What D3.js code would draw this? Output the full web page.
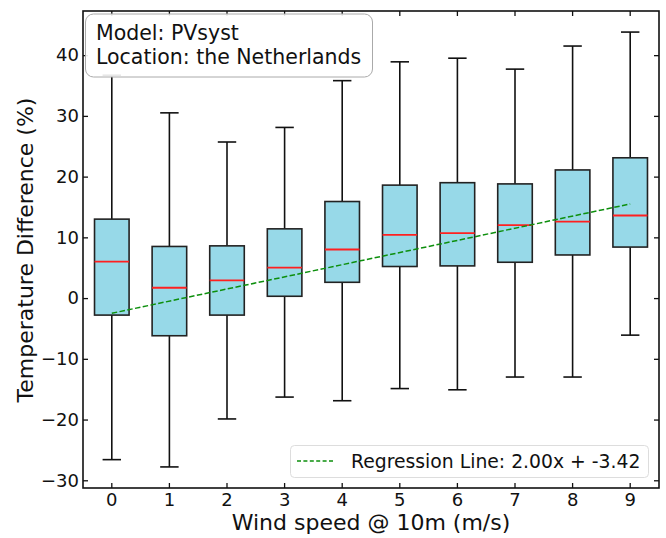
<!DOCTYPE html>
<html><head><meta charset="utf-8">
<script src="https://cdn.jsdelivr.net/npm/d3@7"></script>
<style>body{margin:0;background:#fff}svg{display:block}text{font-family:"DejaVu Sans",sans-serif}</style>
</head><body>
<svg id="c" width="666" height="538"></svg>
<script>
const categories = ["0","1","2","3","4","5","6","7","8","9"];
const whiskerLow  = [-26.6,-27.8,-19.9,-16.3,-16.9,-14.9,-15.1,-13.0,-13.0,-6.1];
const q1          = [-2.8,-6.2,-2.8,0.3,2.6,5.2,5.3,5.9,7.1,8.4];
const medians     = [6.0,1.7,2.9,5.0,8.0,10.4,10.7,12.0,12.6,13.6];
const q3          = [13.0,8.5,8.6,11.4,15.9,18.6,19.0,18.8,21.1,23.1];
const whiskerHigh = [36.7,30.5,25.7,28.1,35.8,38.9,39.5,37.7,41.5,43.8];
const regressionLine = [{x:"0", y:-2.5},{x:"9", y:15.5}];
const yTicks = [-30,-20,-10,0,10,20,30,40];
const annotationLines = ["Model: PVsyst","Location: the Netherlands"];
const legendLabel = "Regression Line: 2.00x + -3.42";

const svg = d3.select("#c");
const L=83, R=659, T=11, B=488;
const x = d3.scaleBand().domain(categories).range([L,R]).paddingInner(0).paddingOuter(0);
const y = d3.scaleLinear().domain([-31.27,47.27]).range([B,T]);
const cx = c => x(c)+x.bandwidth()/2;
const bw = x.bandwidth()*0.6, cw = x.bandwidth()*0.32;
const GREEN = "#0d8f0d";

const g = svg.append("g");
categories.forEach((c,i)=>{
  const X = cx(c);
  g.append("line").attr("x1",X).attr("x2",X).attr("y1",y(q3[i])).attr("y2",y(whiskerHigh[i])).attr("stroke","#111").attr("stroke-width",1.6);
  g.append("line").attr("x1",X).attr("x2",X).attr("y1",y(q1[i])).attr("y2",y(whiskerLow[i])).attr("stroke","#111").attr("stroke-width",1.6);
  g.append("line").attr("x1",X-cw/2).attr("x2",X+cw/2).attr("y1",y(whiskerHigh[i])).attr("y2",y(whiskerHigh[i])).attr("stroke","#111").attr("stroke-width",1.6);
  g.append("line").attr("x1",X-cw/2).attr("x2",X+cw/2).attr("y1",y(whiskerLow[i])).attr("y2",y(whiskerLow[i])).attr("stroke","#111").attr("stroke-width",1.6);
  g.append("rect").attr("x",X-bw/2).attr("width",bw).attr("y",y(q3[i])).attr("height",y(q1[i])-y(q3[i]))
    .attr("fill","#97d9e8").attr("stroke","#222").attr("stroke-width",1.6);
  g.append("line").attr("x1",X-bw/2).attr("x2",X+bw/2).attr("y1",y(medians[i])).attr("y2",y(medians[i])).attr("stroke","#ff2020").attr("stroke-width",1.8);
});

svg.append("path").datum(regressionLine)
  .attr("d", d3.line().x(d=>cx(d.x)).y(d=>y(d.y)))
  .attr("stroke",GREEN).attr("stroke-width",1.5).attr("stroke-dasharray","5.5,2.4").attr("fill","none");

// frame
svg.append("rect").attr("x",L).attr("y",T).attr("width",R-L).attr("height",B-T).attr("fill","none").attr("stroke","#111").attr("stroke-width",1.6);

// axes with inward ticks
const yAxis = d3.axisLeft(y).tickValues(yTicks).tickSize(-5).tickPadding(4).tickFormat(d=>d<0?"\u2212"+Math.abs(d):d);
const ya = svg.append("g").attr("transform",`translate(${L},0)`).call(yAxis);
const yr = svg.append("g").attr("transform",`translate(${R},0)`).call(d3.axisRight(y).tickValues(yTicks).tickSize(-5).tickFormat(""));
const xAxis = d3.axisBottom(x).tickSize(-5).tickPadding(5);
const xa = svg.append("g").attr("transform",`translate(0,${B})`).call(xAxis);
const xt = svg.append("g").attr("transform",`translate(0,${T})`).call(d3.axisTop(x).tickSize(-5).tickFormat(""));
[ya,yr,xa,xt].forEach(a=>{a.select(".domain").remove();a.attr("font-size",null).attr("font-family",null);a.selectAll(".tick line").attr("stroke","#111").attr("stroke-width",1.3);});
ya.selectAll("text").style("font-size","18px").attr("fill","#111");
xa.selectAll("text").style("font-size","18px").attr("fill","#111");

// axis labels
svg.append("text").attr("x",371).attr("y",530).attr("text-anchor","middle").style("font-size","22px").attr("fill","#111").text("Wind speed @ 10m (m/s)");
svg.append("text").attr("transform","translate(33,250) rotate(-90)").attr("text-anchor","middle").style("font-size","22px").attr("fill","#111").text("Temperature Difference (%)");

// annotation box
svg.append("rect").attr("x",85.5).attr("y",14).attr("width",287).attr("height",63).attr("rx",8)
  .attr("fill","#fff").attr("fill-opacity",0.9).attr("stroke","#aaa").attr("stroke-width",1);
annotationLines.forEach((t,i)=>{
  svg.append("text").attr("x",96).attr("y",40+i*24).style("font-size","20.5px").attr("fill","#111").text(t);
});

// legend
svg.append("rect").attr("x",290.5).attr("y",445.5).attr("width",358).attr("height",32).attr("rx",4)
  .attr("fill","#fff").attr("fill-opacity",0.8).attr("stroke","#ddd").attr("stroke-width",1);
svg.append("line").attr("x1",297).attr("x2",335).attr("y1",461).attr("y2",461)
  .attr("stroke",GREEN).attr("stroke-width",1.5).attr("stroke-dasharray","4,2.4");
svg.append("text").attr("x",351).attr("y",467.5).style("font-size","18.8px").attr("fill","#111").text(legendLabel);
</script>
</body></html>
